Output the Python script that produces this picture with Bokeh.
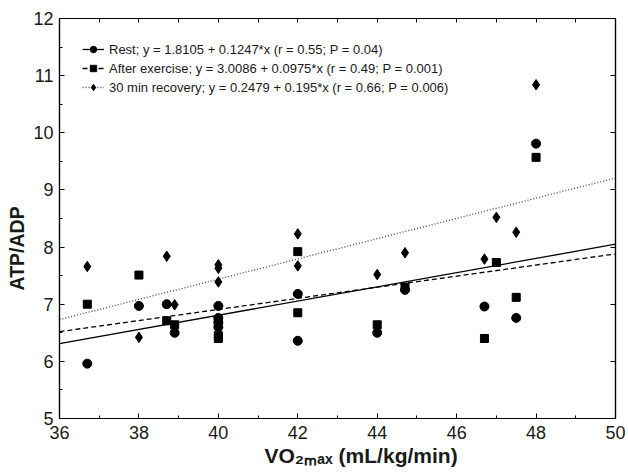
import math
from bokeh.plotting import figure
from bokeh.models import (Range1d, Title, Legend, LegendItem, LinearAxis,
                          SingleIntervalTicker, FixedTicker)
from bokeh.embed import file_html
from bokeh.resources import INLINE

# ---- data ----
rest_x = [36.7, 38.0, 38.7, 38.9, 40.0, 40.0, 40.0, 40.0, 42.0, 42.0, 44.0, 44.7, 46.7, 47.5, 48.0]
rest_y = [5.96, 6.97, 7.00, 6.50, 6.97, 6.76, 6.68, 6.60, 7.18, 6.36, 6.50, 7.25, 6.96, 6.76, 9.81]

ex_x = [36.7, 38.0, 38.7, 38.9, 40.0, 40.0, 40.0, 42.0, 42.0, 44.0, 44.7, 46.7, 47.0, 47.5, 48.0]
ex_y = [7.00, 7.51, 6.71, 6.64, 6.72, 6.45, 6.40, 7.92, 6.85, 6.64, 7.30, 6.40, 7.73, 7.12, 9.57]

rec_x = [36.7, 38.0, 38.7, 38.9, 40.0, 40.0, 40.0, 42.0, 42.0, 44.0, 44.7, 46.7, 47.0, 47.5, 48.0]
rec_y = [7.66, 6.42, 7.84, 6.99, 7.69, 7.63, 7.39, 8.23, 7.67, 7.52, 7.90, 7.79, 8.52, 8.26, 10.84]

fit_x = [36, 50]
rest_fit = [6.31, 8.05]
ex_fit = [6.52, 7.88]
rec_fit = [6.73, 9.21]

labels = [
    "Rest; y = 1.8105 + 0.1247*x (r = 0.55; P = 0.04)",
    "After exercise; y = 3.0086 + 0.0975*x (r = 0.49; P = 0.001)",
    "30 min recovery; y = 0.2479 + 0.195*x (r = 0.66; P = 0.006)",
]
x_label = "VO\u2082\u2098\u2090\u2093 (mL/kg/min)"
y_label = "ATP/ADP"

top_ticks = list(range(36, 51))
right_ticks = list(range(5, 13))

FONT = "Liberation Sans"
W, H = 626, 471

p = figure(width=W, height=H, output_backend="svg", toolbar_location=None,
           x_range=Range1d(36, 50), y_range=Range1d(5, 12),
           min_border_left=59, min_border_right=W - 615, min_border_top=18,
           min_border_bottom=H - 418)
p.xgrid.visible = False
p.ygrid.visible = False
p.outline_line_color = "black"
p.outline_line_width = 1.2
p.background_fill_color = "white"
p.border_fill_color = "white"

def style_axis(ax):
    ax.axis_line_color = "black"
    ax.axis_line_width = 1.2
    ax.major_tick_in = 5
    ax.major_tick_out = 0
    ax.minor_tick_in = 3
    ax.minor_tick_out = 0
    ax.major_tick_line_color = "black"
    ax.minor_tick_line_color = "black"
    ax.major_label_text_font = FONT
    ax.major_label_text_font_size = "18px"
    ax.major_label_text_color = "#1a1a1a"

p.xaxis.ticker = SingleIntervalTicker(interval=2, num_minor_ticks=2)
p.yaxis.ticker = SingleIntervalTicker(interval=1, num_minor_ticks=2)
style_axis(p.xaxis[0])
style_axis(p.yaxis[0])
p.xaxis.major_label_standoff = 7
p.yaxis.major_label_standoff = 6

# unlabeled frame ticks on top and right (minor ticks only, so no label texts)
top_ax = LinearAxis(ticker=FixedTicker(ticks=[], minor_ticks=top_ticks))
right_ax = LinearAxis(ticker=FixedTicker(ticks=[], minor_ticks=right_ticks))
for ax, ln in ((top_ax, 4), (right_ax, 5)):
    ax.axis_line_color = "black"
    ax.axis_line_width = 1.2
    ax.minor_tick_in = ln
    ax.minor_tick_out = 0
    ax.minor_tick_line_color = "black"
    ax.major_label_standoff = 0
p.add_layout(top_ax, "above")
p.add_layout(right_ax, "right")

# regression lines
l_rest = p.line(fit_x, rest_fit, line_color="black", line_width=1.3)
l_ex = p.line(fit_x, ex_fit, line_color="black", line_width=1.3, line_dash="5 3")
l_rec = p.line(fit_x, rec_fit, line_color="#444444", line_width=1.3, line_dash="1 2")

# points
s_rest = p.scatter(rest_x, rest_y, marker="circle", size=9, color="black")
s_ex = p.scatter(ex_x, ex_y, marker="square", size=8, color="black")
s_rec = p.scatter(rec_x, rec_y, marker="diamond", size=10.5, color="black")

legend = Legend(items=[
    LegendItem(label=labels[0], renderers=[l_rest, s_rest]),
    LegendItem(label=labels[1], renderers=[l_ex, s_ex]),
    LegendItem(label=labels[2], renderers=[l_rec, s_rec]),
], location="top_left")
legend.margin = 13
legend.padding = 10
legend.spacing = 3
legend.glyph_width = 22
legend.glyph_height = 16
legend.label_height = 16
legend.label_standoff = 5
legend.label_text_font = FONT
legend.label_text_font_size = "13px"
legend.label_text_color = "#1a1a1a"
legend.background_fill_alpha = 0
legend.border_line_alpha = 0
p.add_layout(legend)

# axis titles
yt = Title(text=y_label, align="left", offset=128, standoff=5,
           text_font=FONT, text_font_size="19.5px", text_font_style="bold",
           text_color="#1a1a1a")
p.add_layout(yt, "left")
xt = Title(text=x_label, align="left", offset=205, standoff=0,
           text_font=FONT, text_font_size="21px", text_font_style="bold",
           text_color="#1a1a1a")
p.add_layout(xt, "below")

open("out.html", "w").write(file_html(p, INLINE))
